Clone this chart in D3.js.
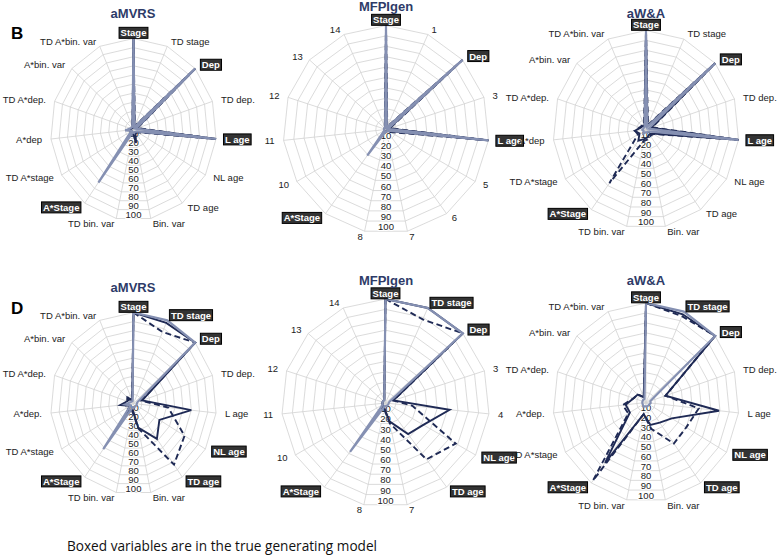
<!DOCTYPE html>
<html>
<head>
<meta charset="utf-8">
<script src="https://cdn.jsdelivr.net/npm/d3@7"></script>
<style>
  body { margin: 0; background: #fff; }
  svg { display: block; font-family: "Liberation Sans", Arial, sans-serif; }
</style>
</head>
<body>
<div id="chart"></div>
<script>
// axis names, panel B / D
var axesB = ["Stage", "TD stage", "Dep", "TD dep.", "L age", "NL age", "TD age", "Bin. var",
    "TD bin. var", "A*Stage", "TD A*stage", "A*dep", "TD A*dep.", "A*bin. var", "TD A*bin. var"];
var axesD = ["Stage", "TD stage", "Dep", "TD dep.", "L age", "NL age", "TD age", "Bin. var",
    "TD bin. var", "A*Stage", "TD A*stage", "A*dep.", "TD A*dep.", "A*bin. var", "TD A*bin. var"];
var mfpAxesB = ["Stage", "1", "Dep", "3", "L age", "5", "6", "7", "8", "A*Stage", "10", "11", "12", "13", "14"];
var mfpAxesD = ["Stage", "TD stage", "Dep", "3", "4", "NL age", "TD age", "7", "8", "A*Stage", "10", "11", "12", "13", "14"];
var boxedB = ["Stage", "Dep", "L age", "A*Stage"];
var boxedD = ["Stage", "TD stage", "Dep", "NL age", "TD age", "A*Stage"];
var tickValues = [10, 20, 30, 40, 50, 60, 70, 80, 90, 100];
var tickLabels = ["10", "20", "30", "40", "50", "60", "70", "80", "90", "100"];

// % selected, three series per panel (solid, dashed, light)
var mvrsB_solid  = [100, 3, 100, 4, 100, 5, 4, 15, 4, 6, 3, 6, 3, 2, 3];
var mvrsB_dashed = [100, 4, 100, 5, 100, 6, 5, 8, 5, 8, 4, 5, 3, 3, 3];
var mvrsB_light  = [100, 3, 100, 3, 100, 4, 3, 4, 3, 72, 3, 10, 4, 3, 3];

var mfpB_solid  = [100, 2, 100, 3, 100, 3, 2, 2, 2, 3, 2, 2, 2, 2, 2];
var mfpB_dashed = [100, 3, 100, 4, 100, 5, 3, 3, 3, 4, 2, 2, 2, 2, 3];
var mfpB_light  = [100, 2, 100, 2, 100, 2, 2, 2, 2, 31, 2, 2, 2, 2, 2];

var waB_solid  = [100, 4, 100, 6, 100, 8, 6, 8, 10, 14, 8, 12, 6, 5, 4];
var waB_dashed = [100, 5, 100, 7, 100, 9, 8, 10, 12, 67, 10, 12, 7, 6, 5];
var waB_light  = [100, 3, 100, 3, 100, 4, 3, 3, 3, 5, 3, 4, 3, 3, 3];

var mvrsD_solid  = [100, 97, 100, 11, 70, 36, 48, 27, 6, 18, 5, 16, 8, 10, 4];
var mvrsD_dashed = [100, 86, 100, 10, 42, 71, 83, 28, 8, 12, 6, 12, 6, 8, 4];
var mvrsD_light  = [100, 100, 100, 5, 4, 4, 4, 4, 4, 62, 4, 10, 4, 3, 3];

var mfpD_solid  = [100, 100, 100, 8, 62, 42, 37, 18, 5, 6, 3, 3, 3, 3, 3];
var mfpD_dashed = [100, 88, 100, 8, 26, 78, 67, 20, 6, 6, 3, 3, 3, 3, 3];
var mfpD_light  = [100, 100, 100, 4, 3, 3, 3, 3, 3, 58, 3, 3, 3, 3, 3];

var waD_solid  = [100, 97, 100, 22, 79, 32, 25, 23, 12, 75, 20, 22, 14, 12, 6];
var waD_dashed = [100, 95, 100, 22, 57, 50, 51, 27, 12, 97, 22, 25, 14, 12, 6];
var waD_light  = [100, 100, 100, 5, 5, 4, 4, 4, 4, 5, 4, 4, 4, 4, 4];

var W = 778, H = 555;
var navy = "#1f2a55";

var svg = d3.select("#chart").append("svg")
    .attr("width", W)
    .attr("height", H);

// panel placement
var panels = [
    {title: "aMVRS", tx: 133, ty: 18, cx: 133.5, cy: 129.5, rx: 83, ry: 91, axes: axesB, boxed: boxedB,
        series: [mvrsB_dashed, mvrsB_solid, mvrsB_light]},
    {title: "MFPIgen", tx: 386, ty: 11, cx: 386, cy: 129.5, rx: 103, ry: 104, axes: mfpAxesB, boxed: boxedB,
        series: [mfpB_dashed, mfpB_solid, mfpB_light]},
    {title: "aW&A", tx: 646, ty: 18, cx: 646, cy: 129.5, rx: 93, ry: 99, axes: axesB, boxed: boxedB,
        series: [waB_dashed, waB_solid, waB_light]},
    {title: "aMVRS", tx: 133, ty: 292, cx: 133.5, cy: 403.5, rx: 83, ry: 91, axes: axesD, boxed: boxedD,
        series: [mvrsD_dashed, mvrsD_solid, mvrsD_light]},
    {title: "MFPIgen", tx: 386, ty: 285, cx: 385.5, cy: 403, rx: 104, ry: 104, axes: mfpAxesD, boxed: boxedD,
        series: [mfpD_dashed, mfpD_solid, mfpD_light]},
    {title: "aW&A", tx: 646, ty: 285, cx: 646, cy: 402.5, rx: 93, ry: 99.5, axes: axesD, boxed: boxedD,
        series: [waD_dashed, waD_solid, waD_light]}
];

// dashed, solid, light
var styles = [
    {stroke: navy, width: 1.9, dash: "6,3.5"},
    {stroke: navy, width: 1.9, dash: null},
    {stroke: "#8590b2", width: 2.2, dash: null}
];

function drawRadar(p) {
    var n = p.axes.length;
    var g = svg.append("g");
    var ang = d3.scaleLinear().domain([0, n]).range([0, 2 * Math.PI]);
    var xr = d3.scaleLinear().domain([0, 100]).range([0, p.rx]);
    var yr = d3.scaleLinear().domain([0, 100]).range([0, p.ry]);
    var pt = function (i, v) {
        return [p.cx + xr(v) * Math.sin(ang(i)), p.cy - yr(v) * Math.cos(ang(i))];
    };
    var idx = d3.range(n);
    var line = d3.line().curve(d3.curveLinearClosed);

    // grid rings + spokes
    g.selectAll("path.ring").data(tickValues).enter().append("path")
        .attr("class", "ring")
        .attr("d", function (v) { return line(idx.map(function (i) { return pt(i, v); })); })
        .attr("fill", "none").attr("stroke", "#d2d2d2").attr("stroke-width", 0.8);
    g.selectAll("line.spoke").data(idx).enter().append("line")
        .attr("class", "spoke")
        .attr("x1", p.cx).attr("y1", p.cy)
        .attr("x2", function (i) { return pt(i, 100)[0]; })
        .attr("y2", function (i) { return pt(i, 100)[1]; })
        .attr("stroke", "#d2d2d2").attr("stroke-width", 0.8);

    // value labels down the middle
    var down = Math.cos(Math.PI / n);
    g.selectAll("text.tick").data(tickValues).enter().append("text")
        .attr("class", "tick")
        .attr("x", p.cx)
        .attr("y", function (v) { return p.cy + yr(v) * down - 1; })
        .attr("text-anchor", "middle")
        .attr("font-size", 9.5)
        .attr("fill", "#222")
        .attr("stroke", "#fff").attr("stroke-width", 2).attr("paint-order", "stroke")
        .text(function (v, k) { return tickLabels[k]; });

    // series
    p.series.forEach(function (vals, s) {
        var st = styles[s];
        g.append("path")
            .attr("d", line(vals.map(function (v, i) { return pt(i, v); })))
            .attr("fill", "none")
            .attr("stroke", st.stroke)
            .attr("stroke-width", st.width)
            .attr("stroke-linejoin", "miter")
            .attr("stroke-dasharray", st.dash);
    });

    // axis labels
    idx.forEach(function (i) {
        var name = p.axes[i];
        var v = pt(i, 100);
        var s = Math.sin(ang(i)), c = Math.cos(ang(i));
        var anchor = s > 0.1 ? "start" : (s < -0.1 ? "end" : "middle");
        var isBoxed = p.boxed.indexOf(name) >= 0;
        var lg = g.append("g");
        var t = lg.append("text")
            .attr("x", v[0] + s * 9)
            .attr("y", v[1] - c * 5.5)
            .attr("dy", "0.35em")
            .attr("text-anchor", anchor)
            .attr("font-size", 9.5)
            .attr("fill", isBoxed ? "#fff" : "#222")
            .attr("font-weight", isBoxed ? "bold" : null)
            .text(name);
        if (isBoxed) {
            var bb = t.node().getBBox();
            lg.insert("rect", "text")
                .attr("x", bb.x - 1.5).attr("y", bb.y)
                .attr("width", bb.width + 3).attr("height", bb.height)
                .attr("fill", "#333").attr("stroke", "#000").attr("stroke-width", 1);
        }
    });

    svg.append("text")
        .attr("x", p.tx).attr("y", p.ty)
        .attr("text-anchor", "middle")
        .attr("font-size", 13).attr("font-weight", "bold")
        .attr("fill", "#2e3b68")
        .text(p.title);
}

panels.forEach(drawRadar);

svg.append("text").attr("x", 11).attr("y", 39)
    .attr("font-size", 17).attr("font-weight", "bold").text("B");
svg.append("text").attr("x", 11).attr("y", 314)
    .attr("font-size", 17).attr("font-weight", "bold").text("D");

svg.append("text")
    .attr("x", 67).attr("y", 551)
    .attr("font-family", "'Open Sans', sans-serif")
    .attr("font-size", 14)
    .attr("textLength", 310).attr("lengthAdjust", "spacingAndGlyphs")
    .attr("fill", "#111")
    .text("Boxed variables are in the true generating model");
</script>
</body>
</html>
